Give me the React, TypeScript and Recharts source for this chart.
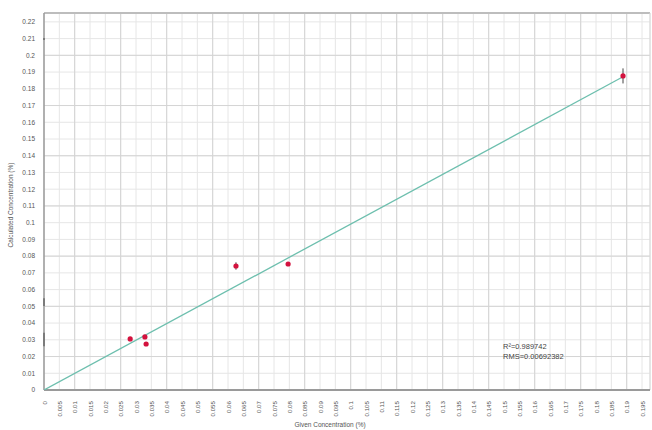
import {
  ScatterChart,
  Scatter,
  XAxis,
  YAxis,
  CartesianGrid,
  ErrorBar,
  ReferenceLine,
} from 'recharts';

// measured samples: given vs calculated concentration (%)
const givenConc = [0.0281, 0.0329, 0.0333, 0.0626, 0.0796, 0.1888];
const calcConc = [0.0305, 0.0317, 0.0275, 0.0741, 0.0753, 0.1877];
const calcErr = [0.0008, 0.0008, 0.0006, 0.0022, 0.0008, 0.0045];

// regression line end points
const fitX = [0, 0.1888];
const fitY = [0, 0.1872];

const xTicks = [
  0, 0.005, 0.01, 0.015, 0.02, 0.025, 0.03, 0.035, 0.04, 0.045, 0.05, 0.055,
  0.06, 0.065, 0.07, 0.075, 0.08, 0.085, 0.09, 0.095, 0.1, 0.105, 0.11, 0.115,
  0.12, 0.125, 0.13, 0.135, 0.14, 0.145, 0.15, 0.155, 0.16, 0.165, 0.17,
  0.175, 0.18, 0.185, 0.19, 0.195,
];
const yTicks = [
  0, 0.01, 0.02, 0.03, 0.04, 0.05, 0.06, 0.07, 0.08, 0.09, 0.1, 0.11, 0.12,
  0.13, 0.14, 0.15, 0.16, 0.17, 0.18, 0.19, 0.2, 0.21, 0.22,
];
const xMajor = [0.01, 0.025, 0.04, 0.055, 0.07, 0.085, 0.1, 0.115, 0.13, 0.145, 0.16, 0.175, 0.19];
const yMajor = [0.02, 0.05, 0.08, 0.11, 0.14, 0.17, 0.2];

// short dark marks sitting on the y axis
const axisMarks = [
  [0.2092, 0.2104],
  [0.0502, 0.0548],
  [0.0262, 0.0342],
];

const stats = ['R²=0.989742', 'RMS=0.00692382'];

const FONT = '"Liberation Sans", Arial, sans-serif';

const points = givenConc.map((x, i) => ({ x, y: calcConc[i], err: calcErr[i] }));
const fitData = fitX.map((x, i) => ({ x, y: fitY[i] }));

function XTick({ x, y, payload }: any) {
  const ty = y + 3;
  return (
    <text
      x={x}
      y={ty}
      transform={`rotate(-90, ${x}, ${ty})`}
      dy={2.5}
      textAnchor="end"
      fontSize={6.2}
      fill="#555"
      fontFamily={FONT}
    >
      {String(payload.value)}
    </text>
  );
}

function Dot({ cx, cy }: any) {
  return <circle cx={cx} cy={cy} r={2.6} fill="#d3123e" />;
}

export default function App() {
  return (
    <div style={{ position: 'absolute', left: 0, top: 0, width: 652, height: 430, background: '#fff' }}>
      <ScatterChart
        width={652}
        height={430}
        margin={{ top: 13, right: 2, left: 0, bottom: 0 }}
      >
        <CartesianGrid stroke="#e6e6e6" strokeWidth={1} />
        {xMajor.map((v) => (
          <ReferenceLine key={'vx' + v} x={v} stroke="#d4d4d4" />
        ))}
        {yMajor.map((v) => (
          <ReferenceLine key={'hy' + v} y={v} stroke="#d4d4d4" />
        ))}
        <XAxis
          type="number"
          dataKey="x"
          domain={[0, 0.1976]}
          ticks={xTicks}
          interval={0}
          allowDataOverflow
          height={40}
          tick={<XTick />}
          tickLine={false}
          axisLine={{ stroke: '#9a9a9a', strokeWidth: 2 }}
        />
        <YAxis
          type="number"
          dataKey="y"
          domain={[0, 0.2253]}
          ticks={yTicks}
          interval={0}
          allowDataOverflow
          width={44}
          tick={{ fontSize: 6.5, fill: '#555', fontFamily: FONT }}
          tickFormatter={(v: number) => String(v)}
          tickLine={false}
          tickMargin={3}
          axisLine={{ stroke: '#9a9a9a', strokeWidth: 1.5 }}
        />
        <ReferenceLine y={0.2253} stroke="#bdbdbd" strokeWidth={2} />
        <ReferenceLine x={0.1976} stroke="#d8d8d8" />
        {axisMarks.map(([a, b], i) => (
          <ReferenceLine
            key={'m' + i}
            segment={[
              { x: 0, y: a },
              { x: 0, y: b },
            ]}
            stroke="#222"
            strokeWidth={2}
            ifOverflow="visible"
          />
        ))}
        <Scatter
          data={fitData}
          line={{ stroke: '#6dbfae', strokeWidth: 1.3 }}
          shape={() => null}
          isAnimationActive={false}
        />
        <Scatter data={points} isAnimationActive={false} shape={<Dot />}>
          <ErrorBar dataKey="err" direction="y" width={0} stroke="#444" strokeWidth={1} />
        </Scatter>
      </ScatterChart>
      <div
        style={{
          position: 'absolute',
          left: 10,
          top: 205,
          transform: 'translate(-50%, -50%) rotate(-90deg)',
          fontFamily: FONT,
          fontSize: 6.5,
          color: '#555',
          whiteSpace: 'nowrap',
        }}
      >
        Calculated Concentration (%)
      </div>
      <div
        style={{
          position: 'absolute',
          left: 330,
          top: 421,
          transform: 'translateX(-50%)',
          fontFamily: FONT,
          fontSize: 6.5,
          color: '#555',
          whiteSpace: 'nowrap',
        }}
      >
        Given Concentration (%)
      </div>
      <div
        style={{
          position: 'absolute',
          left: 503,
          top: 342,
          fontFamily: FONT,
          fontSize: 7.5,
          lineHeight: '10px',
          color: '#444',
          whiteSpace: 'nowrap',
        }}
      >
        {stats.map((s) => (
          <div key={s}>{s}</div>
        ))}
      </div>
    </div>
  );
}
